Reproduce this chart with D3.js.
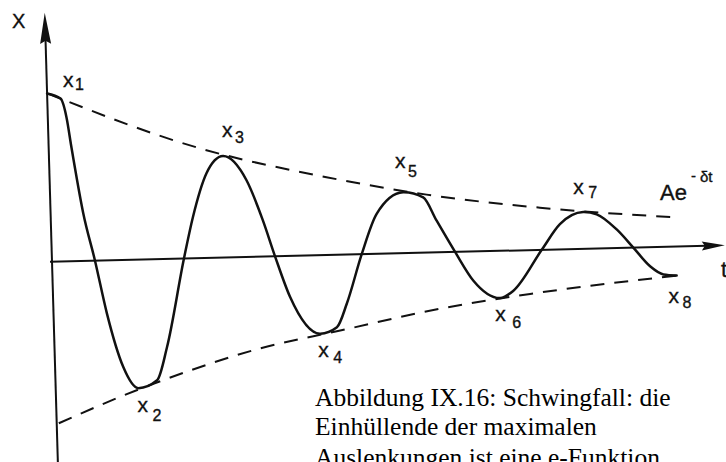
<!DOCTYPE html>
<html>
<head>
<meta charset="utf-8">
<script src="https://cdn.jsdelivr.net/npm/d3@7"></script>
<style>
  html, body { margin: 0; padding: 0; background: #fff; overflow: hidden; }
  svg { display: block; }
</style>
</head>
<body>
<svg id="chart" width="726" height="462"></svg>
<script>
// Damped oscillation x(t), sampled along the drawn curve
const curveT = [0, 1.33, 1.88, 2.27, 3.26, 4.30, 5.33, 6.82, 8.27, 10.16, 11.25, 13.20,
  14.22, 15.70, 17.40, 19.68, 21.20, 22.31, 23.70, 26.60, 28.29, 29.35, 30.98, 32.59,
  35.30, 37.29, 38.57, 40.32, 42.07, 44.69, 46.01, 48.99, 50.88, 53.24, 54.58, 56.54,
  58.15, 59.77, 61.08, 62.40];
const curveX = [9.90, 9.58, 8.43, 6.73, 2.82, 0, -3.10, -6.30, -7.56, -7.12, -5.18, 0,
  2.43, 4.98, 5.97, 4.51, 2.13, 0, -2.42, -4.62, -4.26, -2.88, 0, 2.35,
  3.58, 3.25, 1.86, 0, -1.72, -2.78, -2.38, 0, 1.48, 2.16, 2.01, 1.09,
  0, -1.12, -1.62, -1.70];

// Upper envelope  A·e^(−δt)
const upperT = [0, 15.09, 27.68, 37.64, 48.93, 62.23];
const upperX = [9.91, 6.46, 4.58, 3.41, 2.48, 1.73];

// Lower envelope  −A·e^(−δt)
const lowerT = [0.21, 6.44, 14.52, 20.57, 28.61, 38.67, 47.70, 62.42];
const lowerX = [-9.51, -8.04, -6.40, -5.39, -4.46, -3.32, -2.58, -1.71];

// Successive extreme deflections x1 … x8
const extremaNames = ["1", "2", "3", "4", "5", "6", "7", "8"];
const extremaT = [0, 8.27, 17.40, 26.60, 35.30, 44.69, 53.24, 61.08];
const extremaX = [9.90, -7.56, 5.97, -4.62, 3.58, -2.78, 2.16, -1.62];

// Axis and caption texts
const axisNameV = "X";
const axisNameH = "t";
const envelopeBase = "Ae";
const envelopeExpSign = "-";
const envelopeExp = "δt";
const captionLines = [
  "Abbildung IX.16: Schwingfall: die",
  "Einhüllende der maximalen",
  "Auslenkungen ist eine e-Funktion"
];

// ---------------------------------------------------------------
const svg = d3.select("#chart");
const ink = "#111";
const handFont = "'Liberation Sans', Arial, sans-serif";

// Plot frame: origin where the axes cross, slightly skewed axes
const origin = [52, 261.7];
const ax = [0.99971, -0.02426];   // direction of the t axis
const ay = [0.0292, 0.99957];     // direction of the (downward) X axis

const tScale = d3.scaleLinear().domain([0, 10]).range([0, 100]);
const xScale = d3.scaleLinear().domain([-10, 10]).range([170, -170]);

const plot = svg.append("g")
  .attr("transform", `matrix(${ax[0]},${ax[1]},${ay[0]},${ay[1]},${origin[0]},${origin[1]})`);

function toScreen(t, x) {
  const u = tScale(t), v = xScale(x);
  return [origin[0] + u * ax[0] + v * ay[0], origin[1] + u * ax[1] + v * ay[1]];
}

// Axes with arrowheads
plot.append("line")
  .attr("x1", 0).attr("y1", -222).attr("x2", 0).attr("y2", 230)
  .attr("stroke", ink).attr("stroke-width", 2);
plot.append("path")
  .attr("d", "M0,-249 L-5.5,-218 L0,-221 L5.5,-218 Z")
  .attr("fill", ink);

plot.append("line")
  .attr("x1", -2).attr("y1", 0).attr("x2", 655).attr("y2", 0)
  .attr("stroke", ink).attr("stroke-width", 2);
plot.append("path")
  .attr("d", "M673,0 L650,-4.5 L653,0 L650,4.5 Z")
  .attr("fill", ink);

// Envelopes (dashed)
const line = d3.line()
  .x(d => tScale(d[0]))
  .y(d => xScale(d[1]))
  .curve(d3.curveMonotoneX);

plot.append("path")
  .datum(d3.zip(upperT, upperX))
  .attr("d", line)
  .attr("fill", "none").attr("stroke", ink)
  .attr("stroke-width", 2).attr("stroke-dasharray", "14,10");

plot.append("path")
  .datum(d3.zip(lowerT, lowerX))
  .attr("d", line)
  .attr("fill", "none").attr("stroke", ink)
  .attr("stroke-width", 2).attr("stroke-dasharray", "14,10");

// The oscillation itself
plot.append("path")
  .datum(d3.zip(curveT, curveX))
  .attr("d", line)
  .attr("fill", "none").attr("stroke", ink)
  .attr("stroke-width", 2.5).attr("stroke-linejoin", "round").attr("stroke-linecap", "round");

// Labels x1 … x8 beside the extrema: [dx, dy] of the "x", then of the index
const labelPlacement = [
  [16, -6, 28, -3], [-1, 24, 14, 33], [-1, -19, 12, -13], [-2, 23, 13, 29],
  [-8, -24, 5, -15], [-5, 23, 12, 30], [-10, -18, 5, -14], [5, 29, 19, 34]
];

const labels = svg.append("g")
  .attr("font-family", handFont).attr("fill", ink)
  .attr("stroke", ink).attr("stroke-width", 0.35);

extremaNames.forEach((name, i) => {
  const [px, py] = toScreen(extremaT[i], extremaX[i]);
  const p = labelPlacement[i];
  labels.append("text")
    .attr("x", px + p[0]).attr("y", py + p[1])
    .attr("font-size", 21).text("x");
  labels.append("text")
    .attr("x", px + p[2]).attr("y", py + p[3])
    .attr("font-size", 16).text(name);
});

// Axis names
labels.append("text").attr("x", 12).attr("y", 28).attr("font-size", 20).text(axisNameV);
labels.append("text").attr("x", 721).attr("y", 277).attr("font-size", 22).text(axisNameH);

// Envelope formula  Ae^(−δt)
labels.append("text").attr("x", 660).attr("y", 199.5).attr("font-size", 22).text(envelopeBase);
labels.append("text").attr("x", 691).attr("y", 181).attr("font-size", 15).text(envelopeExpSign);
labels.append("text").attr("x", 700).attr("y", 182).attr("font-size", 15).text(envelopeExp);

// Caption
const caption = svg.append("text")
  .attr("font-family", "'Liberation Serif', 'Times New Roman', serif")
  .attr("font-size", 25.5).attr("fill", "#000");
const captionBaselines = [406, 435, 466];
captionLines.forEach((s, i) => {
  caption.append("tspan").attr("x", 315).attr("y", captionBaselines[i]).text(s);
});
</script>
</body>
</html>
